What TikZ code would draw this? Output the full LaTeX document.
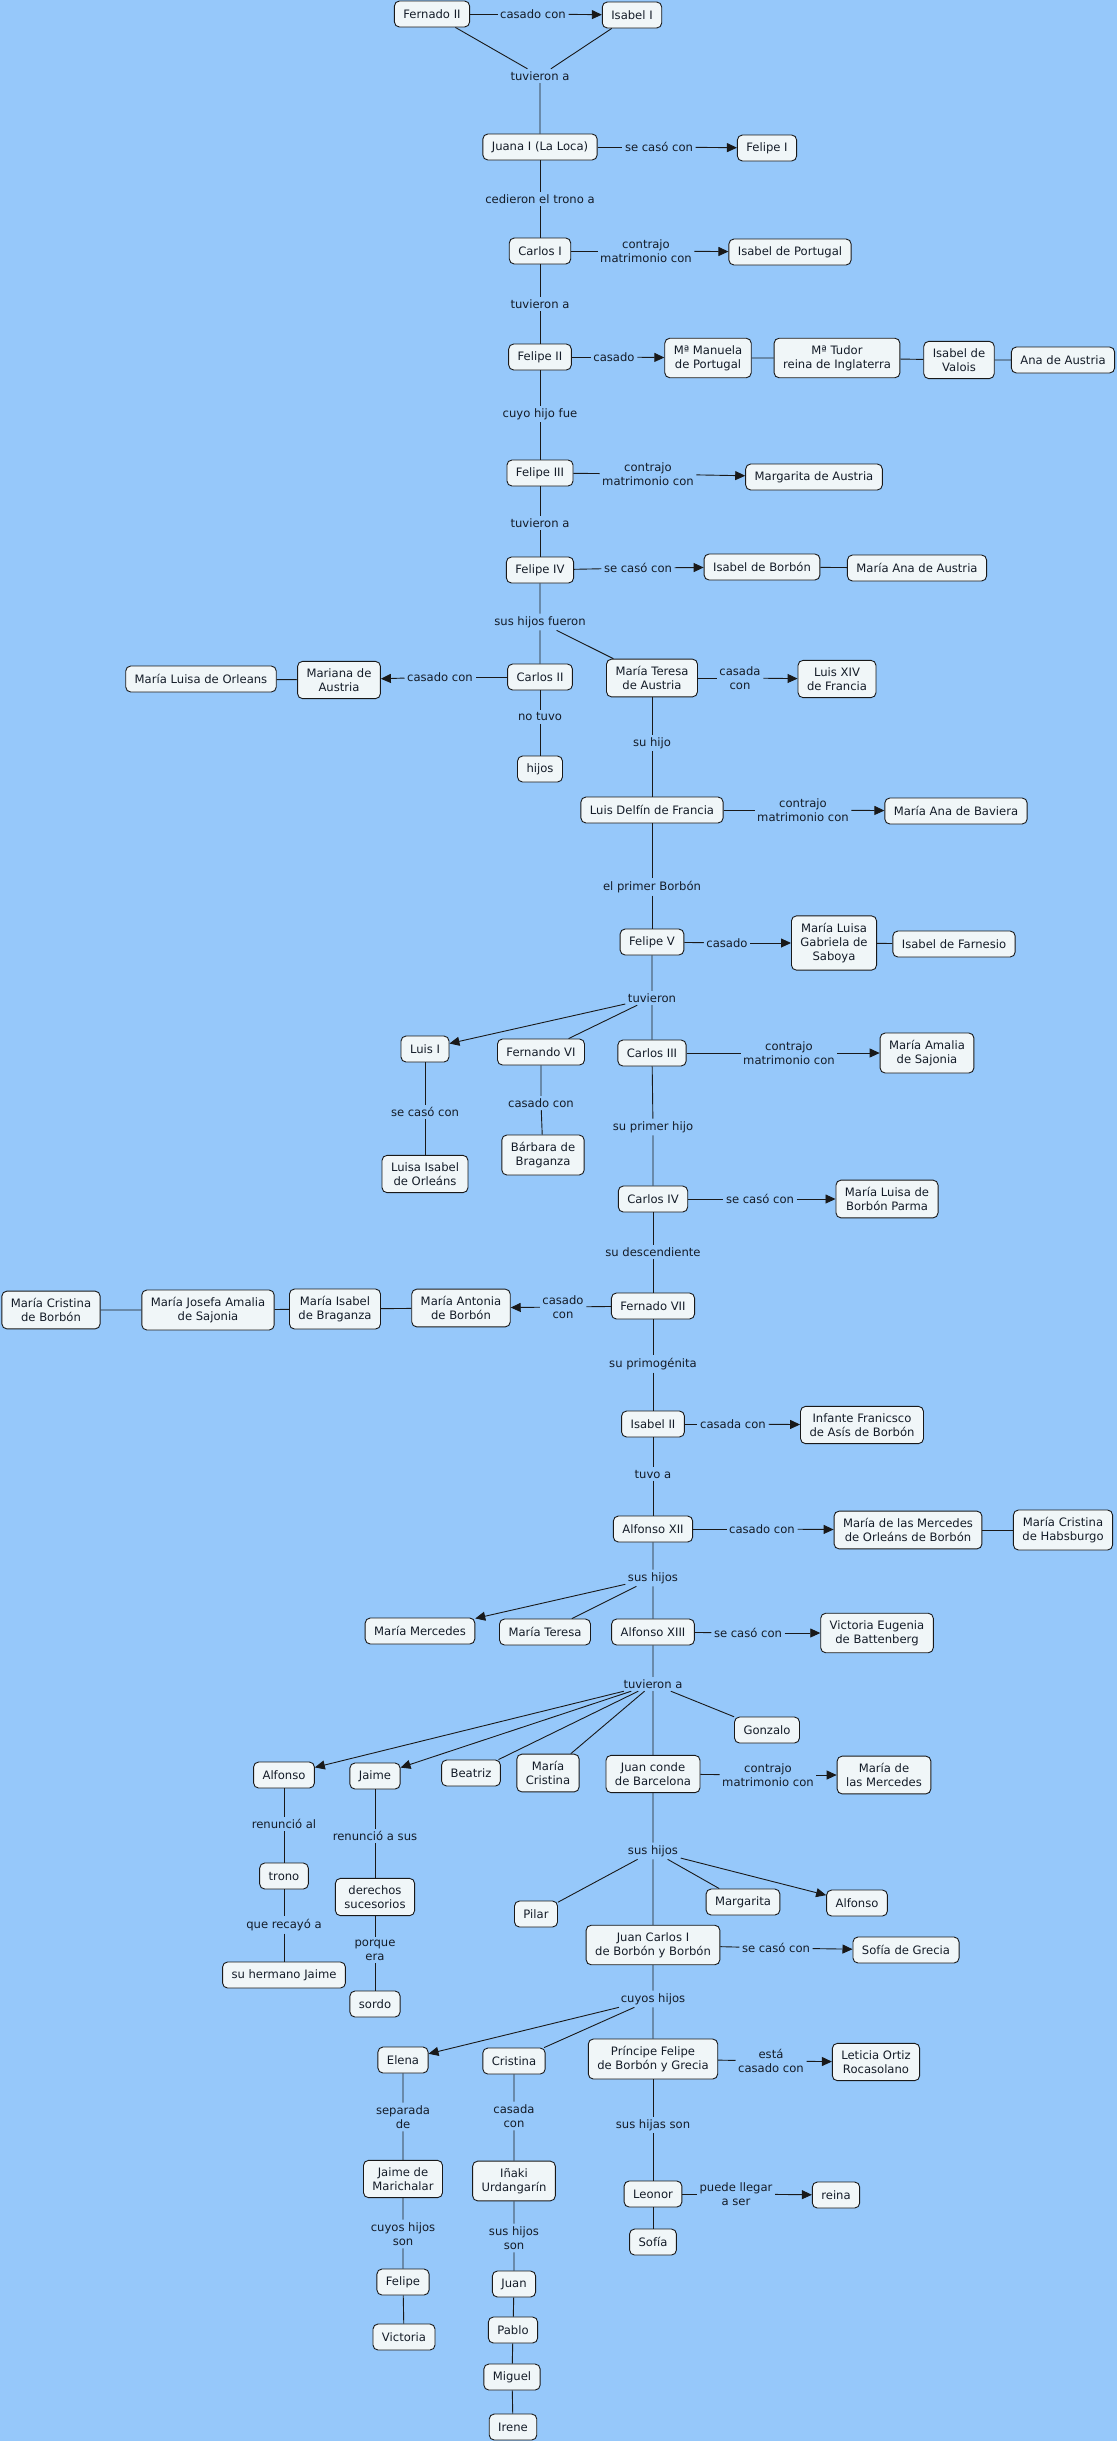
\documentclass[tikz,border=0pt]{standalone}
\usepackage{fontspec}
\setmainfont{DejaVu Sans}
\usetikzlibrary{arrows.meta}
\definecolor{mapbg}{RGB}{150,200,250}
\definecolor{boxfill}{RGB}{240,246,248}
\definecolor{mapink}{RGB}{20,28,40}
\newcommand{\mapfont}{\fontsize{11.6}{14.3}\selectfont}
\tikzset{
  cbox/.style = {draw=black!90, fill=boxfill, rounded corners=5pt, line width=0.9pt,
                 inner xsep=9pt, inner ysep=7pt, minimum height=26pt,
                 align=center, font=\mapfont, text=mapink},
  lnk/.style  = {inner sep=2.5pt, align=center, font=\mapfont, text=mapink},
  ln/.style   = {line width=0.9pt, black!90},
  lar/.style  = {ln, -{Triangle[length=10pt,width=9pt]}}
}

\begin{document}
\begin{tikzpicture}[x=1pt,y=-1pt]
  \fill[mapbg] (0,0) rectangle (1117,2441);
  \useasboundingbox (0,0) rectangle (1117,2441);

  \node[cbox] (fer2)    at (432,14)  {Fernado II};
  \node[cbox] (isa1)    at (632,15)  {Isabel I};
  \node[lnk]  (l1)      at (533,14)  {casado con};
  \node[lnk]  (l2)      at (540,76)  {tuvieron a};
  \node[cbox] (juana)   at (540,147) {Juana I (La Loca)};
  \node[lnk]  (l3)      at (659,147) {se casó con};
  \node[cbox] (fel1)    at (767,148) {Felipe I};
  \node[lnk]  (l4)      at (540,199) {cedieron el trono a};
  \node[cbox] (car1)    at (540,251) {Carlos I};
  \node[lnk]  (l5)      at (646,251) {contrajo\\matrimonio con};
  \node[cbox] (isapor)  at (790,252) {Isabel de Portugal};
  \node[lnk]  (l6)      at (540,304) {tuvieron a};
  \node[cbox] (fel2)    at (540,357) {Felipe II};
  \node[lnk]  (l7)      at (614,357) {casado};
  \node[cbox] (manuela) at (708,358) {Mª Manuela\\de Portugal};
  \node[cbox] (tudor)   at (837,358) {Mª Tudor\\reina de Inglaterra};
  \node[cbox] (valois)  at (959,360) {Isabel de\\Valois};
  \node[cbox] (anaaus)  at (1063,360) {Ana de Austria};
  \node[lnk]  (l8)      at (540,414) {cuyo hijo fue};
  \node[cbox] (fel3)    at (540,473) {Felipe III};
  \node[lnk]  (l9)      at (648,474) {contrajo\\matrimonio con};
  \node[cbox] (margar)  at (814,477) {Margarita de Austria};
  \node[lnk]  (l10)     at (540,523) {tuvieron a};
  \node[cbox] (fel4)    at (540,570) {Felipe IV};
  \node[lnk]  (l11)     at (638,568) {se casó con};
  \node[cbox] (isabor)  at (762,567) {Isabel de Borbón};
  \node[cbox] (manaaus) at (917,568) {María Ana de Austria};
  \node[lnk]  (l12)     at (540,622) {sus hijos fueron};
  \node[cbox] (car2)    at (540,677) {Carlos II};
  \node[lnk]  (l13)     at (440,677) {casado con};
  \node[cbox] (mariana) at (339,680) {Mariana de\\Austria};
  \node[cbox] (orleans) at (201,679) {María Luisa de Orleans};
  \node[lnk]  (l14)     at (540,717) {no tuvo};
  \node[cbox] (hijos)   at (540,769) {hijos};
  \node[cbox] (mteresa) at (652,678) {María Teresa\\de Austria};
  \node[lnk]  (l15)     at (740,678) {casada\\con};
  \node[cbox] (luis14)  at (837,679) {Luis XIV\\de Francia};
  \node[lnk]  (l16)     at (652,743) {su hijo};
  \node[cbox] (delfin)  at (652,810) {Luis Delfín de Francia};
  \node[lnk]  (l17)     at (803,810) {contrajo\\matrimonio con};
  \node[cbox] (baviera) at (956,811) {María Ana de Baviera};
  \node[lnk]  (l18)     at (652,887) {el primer Borbón};
  \node[cbox] (fel5)    at (652,942) {Felipe V};
  \node[lnk]  (l19)     at (727,943) {casado};
  \node[cbox] (saboya)  at (834,943) {María Luisa\\Gabriela de\\Saboya};
  \node[cbox] (farnes)  at (954,944) {Isabel de Farnesio};
  \node[lnk]  (l20)     at (652,998) {tuvieron};
  \node[cbox] (luis1)   at (425,1049) {Luis I};
  \node[cbox] (fern6)   at (541,1052) {Fernando VI};
  \node[cbox] (car3)    at (652,1053) {Carlos III};
  \node[lnk]  (l21)     at (425,1112) {se casó con};
  \node[cbox] (luisaisa) at (425,1174) {Luisa Isabel\\de Orleáns};
  \node[lnk]  (l22)     at (541,1103) {casado con};
  \node[cbox] (barbara) at (543,1155) {Bárbara de\\Braganza};
  \node[lnk]  (l23)     at (789,1053) {contrajo\\matrimonio con};
  \node[cbox] (amalia)  at (927,1053) {María Amalia\\de Sajonia};
  \node[lnk]  (l24)     at (653,1127) {su primer hijo};
  \node[cbox] (car4)    at (653,1199) {Carlos IV};
  \node[lnk]  (l25)     at (760,1199) {se casó con};
  \node[cbox] (parma)   at (887,1199) {María Luisa de\\Borbón Parma};
  \node[lnk]  (l26)     at (653,1252) {su descendiente};
  \node[cbox] (fer7)    at (653,1306) {Fernado VII};
  \node[lnk]  (l27)     at (563,1307) {casado\\con};
  \node[cbox] (antonia) at (461,1308) {María Antonia\\de Borbón};
  \node[cbox] (misabel) at (335,1309) {María Isabel\\de Braganza};
  \node[cbox] (josefa)  at (208,1310) {María Josefa Amalia\\de Sajonia};
  \node[cbox] (mcristb) at (51,1310)  {María Cristina\\de Borbón};
  \node[lnk]  (l28)     at (653,1364) {su primogénita};
  \node[cbox] (isa2)    at (653,1424) {Isabel II};
  \node[lnk]  (l29)     at (733,1424) {casada con};
  \node[cbox] (infante) at (862,1425) {Infante Franicsco\\de Asís de Borbón};
  \node[lnk]  (l30)     at (653,1474) {tuvo a};
  \node[cbox] (alf12)   at (653,1529) {Alfonso XII};
  \node[lnk]  (l31)     at (762,1529) {casado con};
  \node[cbox] (mercorl) at (908,1530) {María de las Mercedes\\de Orleáns de Borbón};
  \node[cbox] (habsb)   at (1063,1530) {María Cristina\\de Habsburgo};
  \node[lnk]  (l32)     at (653,1578) {sus hijos};
  \node[cbox] (mmerced) at (420,1631) {María Mercedes};
  \node[cbox] (mteres2) at (545,1632) {María Teresa};
  \node[cbox] (alf13)   at (653,1632) {Alfonso XIII};
  \node[lnk]  (l33)     at (748,1633) {se casó con};
  \node[cbox] (battenb) at (877,1633) {Victoria Eugenia\\de Battenberg};
  \node[lnk]  (l34)     at (653,1684) {tuvieron a};
  \node[cbox] (alfonso) at (284,1775) {Alfonso};
  \node[cbox] (jaime)   at (375,1776) {Jaime};
  \node[cbox] (beatriz) at (471,1773) {Beatriz};
  \node[cbox] (mcrist)  at (548,1773) {María\\Cristina};
  \node[cbox] (juan)    at (653,1774) {Juan conde\\de Barcelona};
  \node[cbox] (gonzalo) at (767,1730) {Gonzalo};
  \node[lnk]  (l35)     at (768,1775) {contrajo\\matrimonio con};
  \node[cbox] (mmerc)   at (884,1775) {María de\\las Mercedes};
  \node[lnk]  (l36)     at (284,1824) {renunció al};
  \node[cbox] (trono)   at (284,1876) {trono};
  \node[lnk]  (l37)     at (284,1925) {que recayó a};
  \node[cbox] (hjaime)  at (284,1975) {su hermano Jaime};
  \node[lnk]  (l38)     at (375,1836) {renunció a sus};
  \node[cbox] (derech)  at (375,1897) {derechos\\sucesorios};
  \node[lnk]  (l39)     at (375,1950) {porque\\era};
  \node[cbox] (sordo)   at (375,2004) {sordo};
  \node[lnk]  (l40)     at (653,1851) {sus hijos};
  \node[cbox] (pilar)   at (536,1914) {Pilar};
  \node[cbox] (margar2) at (743,1902) {Margarita};
  \node[cbox] (alfons2) at (857,1903) {Alfonso};
  \node[cbox] (jc1)     at (653,1945) {Juan Carlos I\\de Borbón y Borbón};
  \node[lnk]  (l41)     at (776,1948) {se casó con};
  \node[cbox] (sofiag)  at (906,1950) {Sofía de Grecia};
  \node[lnk]  (l42)     at (653,1999) {cuyos hijos};
  \node[cbox] (elena)   at (403,2060) {Elena};
  \node[cbox] (cristina) at (514,2061) {Cristina};
  \node[cbox] (felpr)   at (653,2059) {Príncipe Felipe\\de Borbón y Grecia};
  \node[lnk]  (l43)     at (771,2061) {está\\casado con};
  \node[cbox] (leticia) at (876,2062) {Leticia Ortiz\\Rocasolano};
  \node[lnk]  (l44)     at (403,2117) {separada\\de};
  \node[cbox] (marich)  at (403,2179) {Jaime de\\Marichalar};
  \node[lnk]  (l45)     at (403,2234) {cuyos hijos\\son};
  \node[cbox] (felipe)  at (403,2282) {Felipe};
  \node[cbox] (victor)  at (404,2337) {Victoria};
  \node[lnk]  (l46)     at (514,2116) {casada\\con};
  \node[cbox] (inaki)   at (514,2181) {Iñaki\\Urdangarín};
  \node[lnk]  (l47)     at (514,2238) {sus hijos\\son};
  \node[cbox] (juanu)   at (514,2284) {Juan};
  \node[cbox] (pablo)   at (513,2330) {Pablo};
  \node[cbox] (miguel)  at (512,2377) {Miguel};
  \node[cbox] (irene)   at (513,2427) {Irene};
  \node[lnk]  (l48)     at (653,2125) {sus hijas son};
  \node[cbox] (leonor)  at (653,2194) {Leonor};
  \node[lnk]  (l49)     at (736,2194) {puede llegar\\a ser};
  \node[cbox] (reina)   at (836,2195) {reina};
  \node[cbox] (sofia)   at (653,2242) {Sofía};

  \draw[ln] (fer2) -- (l1);   \draw[lar] (l1) -- (isa1);
  \draw[ln] (fer2) -- (l2) (isa1) -- (l2) (l2) -- (juana);
  \draw[ln] (juana) -- (l3);  \draw[lar] (l3) -- (fel1);
  \draw[ln] (juana) -- (l4) (l4) -- (car1);
  \draw[ln] (car1) -- (l5);   \draw[lar] (l5) -- (isapor);
  \draw[ln] (car1) -- (l6) (l6) -- (fel2);
  \draw[ln] (fel2) -- (l7);   \draw[lar] (l7) -- (manuela);
  \draw[ln] (manuela) -- (tudor) (tudor) -- (valois) (valois) -- (anaaus);
  \draw[ln] (fel2) -- (l8) (l8) -- (fel3);
  \draw[ln] (fel3) -- (l9);   \draw[lar] (l9) -- (margar);
  \draw[ln] (fel3) -- (l10) (l10) -- (fel4);
  \draw[ln] (fel4) -- (l11);  \draw[lar] (l11) -- (isabor);
  \draw[ln] (isabor) -- (manaaus);
  \draw[ln] (fel4) -- (l12) (l12) -- (car2) (l12) -- (mteresa);
  \draw[ln] (car2) -- (l13);  \draw[lar] (l13) -- (mariana);
  \draw[ln] (mariana) -- (orleans);
  \draw[ln] (car2) -- (l14) (l14) -- (hijos);
  \draw[ln] (mteresa) -- (l15); \draw[lar] (l15) -- (luis14);
  \draw[ln] (mteresa) -- (l16) (l16) -- (delfin);
  \draw[ln] (delfin) -- (l17); \draw[lar] (l17) -- (baviera);
  \draw[ln] (delfin) -- (l18) (l18) -- (fel5);
  \draw[ln] (fel5) -- (l19);  \draw[lar] (l19) -- (saboya);
  \draw[ln] (saboya) -- (farnes);
  \draw[ln] (fel5) -- (l20) (l20) -- (car3) (l20) -- (fern6);
  \draw[lar] (l20) -- (luis1);
  \draw[ln] (luis1) -- (l21) (l21) -- (luisaisa);
  \draw[ln] (fern6) -- (l22) (l22) -- (barbara);
  \draw[ln] (car3) -- (l23);  \draw[lar] (l23) -- (amalia);
  \draw[ln] (car3) -- (l24) (l24) -- (car4);
  \draw[ln] (car4) -- (l25);  \draw[lar] (l25) -- (parma);
  \draw[ln] (car4) -- (l26) (l26) -- (fer7);
  \draw[ln] (fer7) -- (l27);  \draw[lar] (l27) -- (antonia);
  \draw[ln] (antonia) -- (misabel) (misabel) -- (josefa) (josefa) -- (mcristb);
  \draw[ln] (fer7) -- (l28) (l28) -- (isa2);
  \draw[ln] (isa2) -- (l29);  \draw[lar] (l29) -- (infante);
  \draw[ln] (isa2) -- (l30) (l30) -- (alf12);
  \draw[ln] (alf12) -- (l31); \draw[lar] (l31) -- (mercorl);
  \draw[ln] (mercorl) -- (habsb);
  \draw[ln] (alf12) -- (l32) (l32) -- (alf13) (l32) -- (mteres2);
  \draw[lar] (l32) -- (mmerced);
  \draw[ln] (alf13) -- (l33); \draw[lar] (l33) -- (battenb);
  \draw[ln] (alf13) -- (l34) (l34) -- (juan) (l34) -- (gonzalo)
            (l34) -- (mcrist) (l34) -- (beatriz);
  \draw[lar] (l34) -- (alfonso);
  \draw[lar] (l34) -- (jaime);
  \draw[ln] (alfonso) -- (l36) (l36) -- (trono) (trono) -- (l37) (l37) -- (hjaime);
  \draw[ln] (jaime) -- (l38) (l38) -- (derech) (derech) -- (l39) (l39) -- (sordo);
  \draw[ln] (juan) -- (l35);  \draw[lar] (l35) -- (mmerc);
  \draw[ln] (juan) -- (l40) (l40) -- (jc1) (l40) -- (pilar) (l40) -- (margar2);
  \draw[lar] (l40) -- (alfons2);
  \draw[ln] (jc1) -- (l41);   \draw[lar] (l41) -- (sofiag);
  \draw[ln] (jc1) -- (l42) (l42) -- (felpr) (l42) -- (cristina);
  \draw[lar] (l42) -- (elena);
  \draw[ln] (elena) -- (l44) (l44) -- (marich) (marich) -- (l45) (l45) -- (felipe)
            (felipe) -- (victor);
  \draw[ln] (cristina) -- (l46) (l46) -- (inaki) (inaki) -- (l47) (l47) -- (juanu)
            (juanu) -- (pablo) (pablo) -- (miguel) (miguel) -- (irene);
  \draw[ln] (felpr) -- (l43); \draw[lar] (l43) -- (leticia);
  \draw[ln] (felpr) -- (l48) (l48) -- (leonor) (leonor) -- (sofia);
  \draw[ln] (leonor) -- (l49); \draw[lar] (l49) -- (reina);
\end{tikzpicture}
\end{document}
